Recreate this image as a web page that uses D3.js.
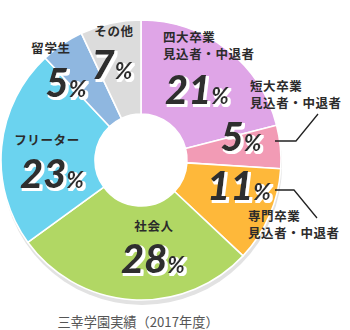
<!DOCTYPE html>
<html><head><meta charset="utf-8">
<script src="https://cdn.jsdelivr.net/npm/d3@7"></script>
<style>
html,body{margin:0;padding:0;background:#fff;}
svg{display:block;}
</style></head>
<body>
<svg id="chart" width="350" height="330"></svg>
<script>
// ---- data ----
const categories = ["四大卒業見込者・中退者","短大卒業見込者・中退者","専門卒業見込者・中退者","社会人","フリーター","留学生","その他"];
const labelLines = [["四大卒業","見込者・中退者"],["短大卒業","見込者・中退者"],["専門卒業","見込者・中退者"],["社会人"],["フリーター"],["留学生"],["その他"]];
const values = [21,5,11,28,23,5,7];
const caption = "三幸学園実績（2017年度）";

// ---- layout / style ----
const colors = ["#dfa5e7","#f29bb5","#feb83a","#b1d764","#6bd3ef","#8fb7e0","#dcdcdc"];
const cx = 141, cy = 160, R = 140, r = 46;
// label layout: [textX, textY(first baseline), anchor, numX, numY]
const labelLayout = [
  [163, 42, "start", 197, 104],
  [250, 91, "start", 241, 151],
  [248, 221, "start", 239, 200],
  [154, 231, "middle", 153, 273],
  [47, 145, "middle", 52, 188],
  [51, 53, "middle", 66, 97],
  [114, 36, "middle", 112, 79]
];
const leaders = [null, [[275,141],[296,141],[318,114]], [[275,190],[294,190],[317,218]], null, null, null, null];

const svg = d3.select("#chart");

// white offset outline filter for numbers
const defs = svg.append("defs");
const f = defs.append("filter").attr("id","wsh").attr("x","-20%").attr("y","-20%").attr("width","140%").attr("height","140%");
f.append("feMorphology").attr("in","SourceAlpha").attr("operator","dilate").attr("radius",1).attr("result","dil");
f.append("feOffset").attr("in","dil").attr("dx",1.5).attr("dy",1.5).attr("result","off");
f.append("feFlood").attr("flood-color","#fff").attr("result","wh");
f.append("feComposite").attr("in","wh").attr("in2","off").attr("operator","in").attr("result","sh");
const fm = f.append("feMerge");
fm.append("feMergeNode").attr("in","sh");
fm.append("feMergeNode").attr("in","SourceGraphic");

const g = svg.append("g").attr("transform", `translate(${cx},${cy})`);

const pie = d3.pie().sort(null).value(d => d)(values);
const arc = d3.arc().innerRadius(r).outerRadius(R);

// shadow
g.append("circle").attr("cx", 1).attr("cy", 5).attr("r", R).attr("fill", "#e2e2e2");

g.selectAll("path.slice").data(pie).enter().append("path")
  .attr("class","slice")
  .attr("d", arc)
  .attr("fill", (d,i) => colors[i])
  .attr("stroke", "#fff").attr("stroke-width", 1.6).attr("stroke-linejoin","round");

// hole
g.append("circle").attr("r", r).attr("fill", "#fff");

// leader lines
const line = d3.line();
leaders.forEach(l => {
  if (!l) return;
  svg.append("path").attr("d", line(l)).attr("fill","none").attr("stroke","#222").attr("stroke-width",1.3);
});

const jpFont = "'Noto Sans CJK JP', sans-serif";
const numFont = "Lato, 'Open Sans', sans-serif";

labelLayout.forEach((L, i) => {
  const [tx, ty, anchor, nx, ny] = L;
  const t = svg.append("text")
    .attr("x", tx).attr("y", ty)
    .attr("text-anchor", anchor)
    .attr("font-family", jpFont)
    .attr("font-weight", 700)
    .attr("font-size", 12.5)
    .attr("letter-spacing", 0.6)
    .attr("fill", "#2b2b2b");
  labelLines[i].forEach((s, k) => {
    t.append("tspan").attr("x", tx).attr("dy", k === 0 ? 0 : 17).text(s);
  });

  const n = svg.append("text")
    .attr("x", nx).attr("y", ny)
    .attr("text-anchor", "middle")
    .attr("font-family", numFont)
    .attr("font-weight", 900)
    .attr("font-style", "italic")
    .attr("fill", "#2f2f2f")
    .attr("filter", "url(#wsh)");
  n.append("tspan").attr("font-size", 40).text(values[i]);
  n.append("tspan").attr("font-size", 23).text("%");
});

svg.append("text")
  .attr("x", 138).attr("y", 327)
  .attr("text-anchor", "middle")
  .attr("font-family", jpFont)
  .attr("font-weight", 400)
  .attr("font-size", 13.2)
  .attr("fill", "#555")
  .text(caption);
</script>
</body></html>
